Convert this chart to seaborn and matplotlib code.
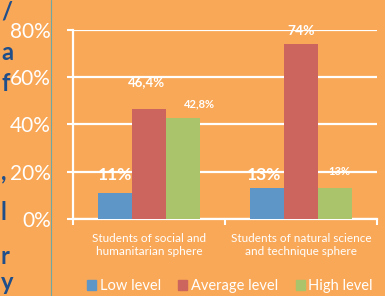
import pandas as pd
import matplotlib
matplotlib.use("Agg")
import matplotlib.pyplot as plt
import matplotlib.patches as mpatches
from matplotlib.lines import Line2D
import seaborn as sns

# data
groups = ["Students of social and\nhumanitarian sphere",
          "Students of natural science\nand technique sphere"]
levels = ["Low level", "Average level", "High level"]
low = [11, 13]
average = [46.4, 74]
high = [42.8, 13]
value_labels = [["11%", "13%"], ["46,4%", "74%"], ["42,8%", "13%"]]
y_ticks = [0, 20, 40, 60, 80]

# label placement / style (per level, per group)
label_dx = [[0.0, -0.02], [-0.015, 0.0], [0.11, 0.03]]
label_dy = [[7.6, 5.6], [11.6, 5.4], [5.9, 6.9]]
label_size = [[12.5, 12.5], [9.5, 10], [8, 8]]

BG = "#F9A857"
colors = ["#5F96C8", "#CC655D", "#A9C46A"]

rows = []
for lvl, vals in zip(levels, [low, average, high]):
    for g, v in zip(groups, vals):
        rows.append({"group": g, "level": lvl, "value": v})
df = pd.DataFrame(rows)

sns.set_style("white")
plt.rcParams["font.family"] = ["Lato", "DejaVu Sans"]

fig = plt.figure(figsize=(3.85, 2.96), dpi=100)
fig.patch.set_facecolor(BG)
ax = fig.add_axes([0.19, 0.26, 0.789, 0.639])
ax.set_facecolor(BG)

sns.barplot(data=df, x="group", y="value", hue="level", hue_order=levels,
            order=groups, palette=colors, width=0.67, saturation=1,
            edgecolor="none", ax=ax, legend=False, zorder=3)

ax.set_ylim(0, 80)
ax.set_xlim(-0.5, 1.5)
ax.set_yticks(y_ticks)
ax.set_yticklabels([f"{t}%" for t in y_ticks])
ax.yaxis.grid(True, color="white", lw=1.6, zorder=0)
ax.set_axisbelow(True)
for s in ["top", "right"]:
    ax.spines[s].set_visible(False)
for s in ["left", "bottom"]:
    ax.spines[s].set_color("white")
    ax.spines[s].set_linewidth(1.6)
ax.set_xlabel("")
ax.set_ylabel("")
ax.tick_params(axis="y", colors="white", labelcolor="white", length=4,
               width=1.5, pad=12, labelsize=15, left=True)
ax.tick_params(axis="x", which="major", length=0, pad=10, labelsize=8.5,
               labelcolor="white")
ax.set_xticks([-0.5, 0.5, 1.5], minor=True)
ax.tick_params(axis="x", which="minor", length=4, width=1.5, color="white",
               bottom=True)

# value labels
for i, cont in enumerate(ax.containers):
    for j, bar in enumerate(cont):
        x = bar.get_x() + bar.get_width() / 2 + label_dx[i][j]
        y = bar.get_height() + label_dy[i][j]
        ax.text(x, y, value_labels[i][j], ha="center", va="center",
                color="white", fontweight="bold", fontsize=label_size[i][j],
                zorder=5)

handles = [mpatches.Patch(color=c, label=l) for c, l in zip(colors, levels)]
fig.legend(handles=handles, loc="center", bbox_to_anchor=(0.597, 0.034),
           ncol=3, frameon=False, fontsize=10.5, labelcolor="white",
           handlelength=0.62, handleheight=0.62, handletextpad=0.25,
           columnspacing=1.2, borderaxespad=0)

# text of the neighbouring slide at the left edge and its border
fig.add_artist(Line2D([51 / 385, 51 / 385], [0, 1], color="#6FA7A2", lw=0.8))
for ch, ypx in [("/", 12), ("a", 52), ("f", 83), (",", 172), ("l", 213),
                ("r", 257), ("y", 282)]:
    fig.text(1 / 385, 1 - ypx / 296, ch, ha="left", va="center",
             color="#1F4E8A", fontweight="bold", fontsize=17)

fig.savefig("out.png", dpi=100, facecolor=BG)
